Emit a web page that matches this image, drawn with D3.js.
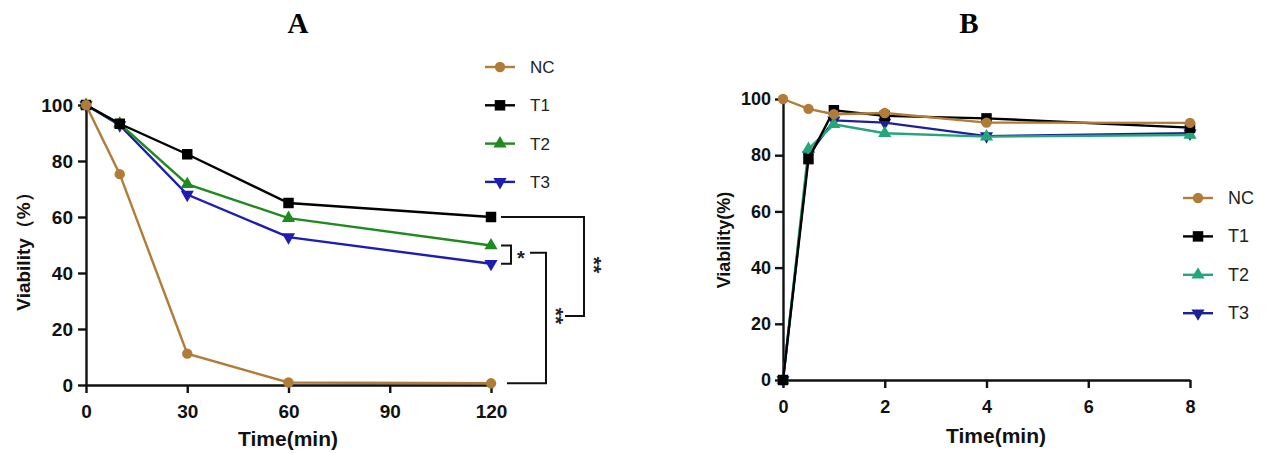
<!DOCTYPE html>
<meta charset="utf-8">
<style>
  body { margin: 0; background: #fff; }
  text { font-family: "Liberation Sans", Arial, sans-serif; }
</style>
<body>
<script src="https://d3js.org/d3.v7.min.js"></script>
<script>

// ---- data ----
var seriesNames = ["NC", "T1", "T2", "T3"];

// panel A: time in minutes
var timeA = [0, 10, 30, 60, 120];
var ncA = [100, 75.3, 11.2, 0.9, 0.6];
var t1A = [100, 93.3, 82.4, 65.0, 60.0];
var t2A = [100, 93.3, 71.7, 59.6, 49.8];
var t3A = [100, 92.8, 68.0, 52.8, 43.3];
var xTicksA = [0, 30, 60, 90, 120];

// panel B: time in minutes
var timeB = [0, 0.5, 1, 2, 4, 8];
var ncB = [100, 96.5, 94.6, 95.0, 91.6, 91.5];
var t1B = [0, 78.6, 96.0, 94.0, 93.1, 89.8];
var t2B = [0, 82.2, 91.0, 87.8, 86.6, 87.2];
var t3B = [0, 80.0, 92.4, 91.6, 86.8, 87.8];
var xTicksB = [0, 2, 4, 6, 8];

var yTicks = [0, 20, 40, 60, 80, 100];

var colorsA = {NC: "#b07c38", T1: "#000000", T2: "#1f8a1f", T3: "#1d1db2"};
var colorsB = {NC: "#b07c38", T1: "#000000", T2: "#25a679", T3: "#1f1f9c"};
var shapes = {NC: d3.symbolCircle, T1: d3.symbolSquare, T2: d3.symbolTriangle, T3: d3.symbolTriangle};
var sizes = {NC: 85, T1: 110, T2: 75, T3: 75};

var svg = d3.select("body").append("svg")
    .attr("width", 1267)
    .attr("height", 453);

function symbolPath(name) {
  return d3.symbol().type(shapes[name]).size(sizes[name])();
}
function symbolTransform(name, x, y) {
  return "translate(" + x + "," + y + ")" + (name == "T3" ? " rotate(180)" : "");
}

function drawPanel(p) {
  var x = d3.scaleLinear().domain(p.xDomain).range(p.xRange);
  var y = d3.scaleLinear().domain([0, 100]).range(p.yRange);
  var g = svg.append("g");

  // axes
  var xAxis = g.append("g")
      .attr("transform", "translate(0," + p.yRange[0] + ")")
      .call(d3.axisBottom(x).tickValues(p.xTicks).tickSize(8).tickSizeOuter(0).tickPadding(12));
  var yAxis = g.append("g")
      .attr("transform", "translate(" + p.xRange[0] + ",0)")
      .call(d3.axisLeft(y).tickValues(yTicks).tickSize(8).tickSizeOuter(0).tickPadding(p.yPad));
  [xAxis, yAxis].forEach(function(a) {
    a.select(".domain").attr("stroke", "#111").attr("stroke-width", 2.4);
    a.selectAll(".tick line").attr("stroke", "#111").attr("stroke-width", 2.4);
    a.selectAll(".tick text")
      .attr("fill", "#111")
      .style("font-size", p.tickFont + "px")
      .style("font-weight", "bold");
  });

  // lines + markers (drawn so NC ends up on top)
  var order = ["T3", "T2", "T1", "NC"];
  var line = d3.line()
      .x(function(d) { return x(d[0]); })
      .y(function(d) { return y(d[1]); });
  order.forEach(function(name) {
    var pts = p.time.map(function(t, i) { return [t, p.values[name][i]]; });
    g.append("path")
      .datum(pts)
      .attr("fill", "none")
      .attr("stroke", p.colors[name])
      .attr("stroke-width", 2.4)
      .attr("d", line);
    g.selectAll(null)
      .data(pts)
      .enter().append("path")
      .attr("d", symbolPath(name))
      .attr("transform", function(d) { return symbolTransform(name, x(d[0]), y(d[1])); })
      .attr("fill", p.colors[name]);
  });

  // legend
  var legend = g.selectAll(".legend")
      .data(seriesNames)
      .enter().append("g")
      .attr("transform", function(d, i) { return "translate(" + p.legendX + "," + (p.legendY + i * p.legendStep) + ")"; });
  legend.append("line")
      .attr("x1", -15).attr("x2", 15)
      .attr("stroke", function(d) { return p.colors[d]; })
      .attr("stroke-width", 2.4);
  legend.append("path")
      .attr("d", function(d) { return symbolPath(d); })
      .attr("transform", function(d) { return d == "T3" ? "rotate(180)" : null; })
      .attr("fill", function(d) { return p.colors[d]; });
  legend.append("text")
      .attr("x", 30)
      .attr("y", 6)
      .style("font-size", p.legendFont + "px")
      .attr("fill", "#222")
      .text(function(d) { return d; });

  // axis titles
  g.append("text")
      .attr("x", p.xTitle[0]).attr("y", p.xTitle[1])
      .attr("text-anchor", "middle")
      .style("font-size", "21px").style("font-weight", "bold")
      .attr("fill", "#111")
      .text("Time(min)");
  g.append("text")
      .attr("transform", "translate(" + p.yTitle[0] + "," + p.yTitle[1] + ")rotate(-90)")
      .attr("text-anchor", "middle")
      .style("font-size", p.yTitleFont + "px").style("font-weight", "bold")
      .attr("fill", "#111")
      .text(p.yLabel);

  // panel letter
  g.append("text")
      .attr("x", p.letterX).attr("y", 33)
      .attr("text-anchor", "middle")
      .style("font-family", "'Liberation Serif', 'Times New Roman', serif")
      .style("font-size", "29px").style("font-weight", "bold")
      .text(p.letter);

  return {x: x, y: y, g: g};
}

var A = drawPanel({
  letter: "A", letterX: 298,
  time: timeA, values: {NC: ncA, T1: t1A, T2: t2A, T3: t3A},
  colors: colorsA,
  xDomain: [0, 120], xRange: [86, 491], yRange: [385, 105],
  xTicks: xTicksA, tickFont: 19, yPad: 5,
  legendX: 500, legendY: 67, legendStep: 38.3, legendFont: 17,
  xTitle: [288, 446], yTitle: [30, 247], yTitleFont: 19, yLabel: "Viability（%）"
});

var B = drawPanel({
  letter: "B", letterX: 969,
  time: timeB, values: {NC: ncB, T1: t1B, T2: t2B, T3: t3B},
  colors: colorsB,
  xDomain: [0, 8], xRange: [783, 1190], yRange: [380, 99],
  xTicks: xTicksB, tickFont: 18, yPad: 4,
  legendX: 1198, legendY: 198, legendStep: 38.4, legendFont: 18,
  xTitle: [996, 443], yTitle: [730, 240], yTitleFont: 18, yLabel: "Viability(%)"
});

// significance brackets in panel A (anchored on the 120 min values)
var ya = A.y, last = timeA.length - 1;
var yT1 = ya(t1A[last]), yT2 = ya(t2A[last]), yT3 = ya(t3A[last]), yNC = ya(ncA[last]);
var yMid = (yT2 + yT3) / 2 - 2;
var br = A.g.append("g").attr("fill", "none").attr("stroke", "#111").attr("stroke-width", 2);
br.append("path").attr("d", "M501," + yT2 + "H511V" + yT3 + "H501");
br.append("path").attr("d", "M501," + yT1 + "H584V316H565");
br.append("path").attr("d", "M507," + yNC + "H546V" + yMid + "H530");

function stars(x, y, s) {
  A.g.append("text")
    .attr("transform", "translate(" + x + "," + y + ")rotate(90)")
    .attr("text-anchor", "middle")
    .style("font-size", "21px")
    .style("font-weight", "bold")
    .attr("fill", "#222")
    .text(s);
}
A.g.append("text")
  .attr("x", 521).attr("y", yMid + 12)
  .attr("text-anchor", "middle")
  .style("font-size", "20px")
  .style("font-weight", "bold")
  .attr("fill", "#222")
  .text("*");
stars(587, 265, "**");
stars(549, 316, "**");

</script>
</body>
